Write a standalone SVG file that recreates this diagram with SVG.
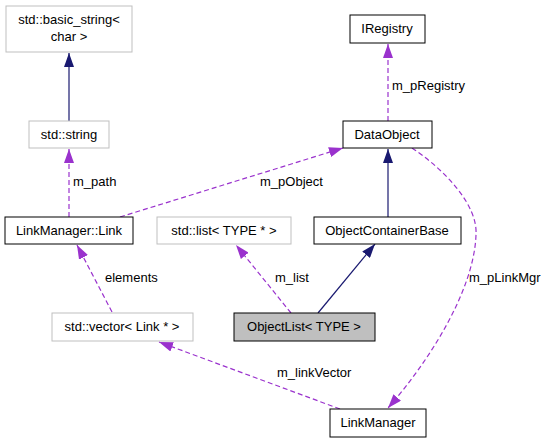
<svg xmlns="http://www.w3.org/2000/svg" width="547" height="443" viewBox="0 0 547 443">
<style>
text{font-family:"Liberation Sans",Arial,sans-serif;font-size:13px;fill:#000}
.n{text-anchor:middle}
.g{fill:#fff;stroke:#bfbfbf;stroke-width:1}
.b{fill:#fff;stroke:#000;stroke-width:1}
.s{fill:#bfbfbf;stroke:#000;stroke-width:1}
.inh{fill:none;stroke:#191970;stroke-width:1.2;marker-end:url(#an)}
.use{fill:none;stroke:#9a32cd;stroke-width:1.2;stroke-dasharray:5,3;marker-end:url(#ap)}
</style>
<defs>
<marker id="an" markerUnits="userSpaceOnUse" markerWidth="14" markerHeight="10" refX="14" refY="5" orient="auto"><path d="M0,0 L14,5 L0,10 z" fill="#191970"/></marker>
<marker id="ap" markerUnits="userSpaceOnUse" markerWidth="14" markerHeight="10" refX="14" refY="5" orient="auto"><path d="M0,0 L14,5 L0,10 z" fill="#9a32cd"/></marker>
</defs>
<rect width="547" height="443" fill="#fff"/>
<g id="connectors">
<path class="inh" d="M69,121 L69,53"/>
<path class="use" d="M69,217 L69,149"/>
<text x="73" y="186">m_path</text>
<path class="use" d="M120,217 L343,148"/>
<text x="260" y="186">m_pObject</text>
<path class="use" d="M388,121 L388,44"/>
<text x="392" y="90">m_pRegistry</text>
<path class="inh" d="M388,217 L388,149"/>
<path class="use" d="M412,148 C445,170 478,205 476,235 C474,290 430,360 388,408"/>
<text x="469" y="282">m_pLinkMgr</text>
<path class="use" d="M291,313 L236,245"/>
<text x="275" y="282">m_list</text>
<path class="inh" d="M318,313 L375,244"/>
<path class="use" d="M112,312 L77,245"/>
<text x="105" y="282">elements</text>
<path class="use" d="M340,409 L159,342"/>
<text x="277" y="377">m_linkVector</text>
</g>
<g id="basic_string"><rect class="g" x="6" y="6" width="126" height="46"/><text class="n" x="69" y="24">std::basic_string&lt;</text><text class="n" x="69" y="41">char &gt;</text></g>
<g id="std_string"><rect class="g" x="29" y="121" width="80" height="27"/><text class="n" x="69" y="139">std::string</text></g>
<g id="link"><rect class="b" x="5" y="217" width="128" height="27"/><text class="n" x="69" y="235">LinkManager::Link</text></g>
<g id="std_list"><rect class="g" x="157" y="217" width="134" height="27"/><text class="n" x="224" y="235">std::list&lt; TYPE * &gt;</text></g>
<g id="std_vector"><rect class="g" x="52" y="313" width="141" height="28"/><text class="n" x="122" y="331">std::vector&lt; Link * &gt;</text></g>
<g id="objectlist"><rect class="s" x="234" y="313" width="141" height="28"/><text class="n" x="304" y="331">ObjectList&lt; TYPE &gt;</text></g>
<g id="objectcontainerbase"><rect class="b" x="314" y="217" width="147" height="27"/><text class="n" x="387" y="235">ObjectContainerBase</text></g>
<g id="linkmanager"><rect class="b" x="330" y="409" width="96" height="28"/><text class="n" x="378" y="427">LinkManager</text></g>
<g id="iregistry"><rect class="b" x="350" y="15" width="75" height="28"/><text class="n" x="387" y="33">IRegistry</text></g>
<g id="dataobject"><rect class="b" x="343" y="121" width="89" height="27"/><text class="n" x="387" y="139">DataObject</text></g>
</svg>
